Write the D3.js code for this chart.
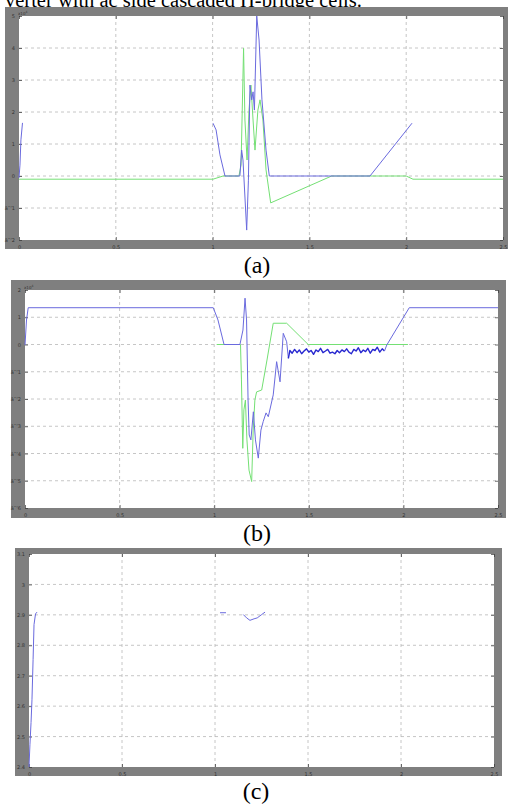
<!DOCTYPE html>
<html>
<head>
<script src="https://cdn.jsdelivr.net/npm/d3@7/dist/d3.min.js"></script>
<style>
    body {margin: 0; background: #fff;}
    svg {display: block;}
    .grid line {stroke: #b8b8b8; stroke-width: 0.8; stroke-dasharray: 3,3;}
    .axis text {font: 5px "DejaVu Sans", sans-serif; fill: #333;}
    .axis line {stroke: #333; stroke-width: 0.7;}
    .axis path {display: none;}
    .caption {font-family: "Liberation Serif", "Times New Roman", Times, serif; fill: #000;}
    .trace {fill: none; stroke-linejoin: round;}
</style>
</head>
<body>
<div id="container"></div>
<script>
// shared time axis (s)
const xTicks = [0, 0.5, 1, 1.5, 2, 2.5];

// (a)
const aYTicks = [-2, -1, 0, 1, 2, 3, 4, 5];
const aBlue = [
    [0, -0.06], [0.005, 0.34], [0.010, 1.13], [0.018, 1.66], [0.5, null],
    [1.002, 1.65], [1.018, 1.44], [1.038, 0.66], [1.064, 0], [1.141, 0],
    [1.150, 0.81], [1.157, 0.5], [1.176, -1.69], [1.185, -0.13], [1.193, 2.84],
    [1.202, 2.38], [1.209, 2.63], [1.216, 2.06], [1.228, 5.0], [1.240, 4.25],
    [1.255, 2.38], [1.276, 0.81], [1.293, 0], [1.813, 0], [2.030, 1.65]
];
const aGreen = [
    [0, -0.10], [1.002, -0.10], [1.054, 0], [1.136, 0], [1.147, 0.34],
    [1.160, 3.99], [1.167, 1.75], [1.178, 0.5], [1.188, 2.06], [1.198, 2.84],
    [1.209, 1.75], [1.219, 0.81], [1.234, 2.06], [1.245, 2.38], [1.260, 1.75],
    [1.276, 0.19], [1.300, -0.84], [1.615, 0], [2.0, 0], [2.035, -0.10], [2.5, -0.10]
];

// (b)
const bYTicks = [-6, -5, -4, -3, -2, -1, 0, 1, 2];
const bBlue = [
    [0, -0.02], [0.008, 0.90], [0.017, 1.35], [0.995, 1.35], [1.02, 0.90],
    [1.052, 0], [1.136, 0], [1.152, 0.53], [1.163, 1.70], [1.171, 0.90],
    [1.179, -2.04], [1.185, -3.32], [1.194, -3.50], [1.207, -2.47], [1.218, -3.50],
    [1.233, -4.17], [1.247, -3.14], [1.259, -2.83], [1.274, -2.51], [1.286, -2.65],
    [1.300, -2.22], [1.312, -1.85], [1.330, -0.63], [1.348, -1.37], [1.365, 0.41],
    [1.383, 0.10], [1.392, -0.51]
];
const bNoise = [
    [1.392, -0.51],
    [1.400, -0.22], [1.412, -0.32], [1.425, -0.18], [1.438, -0.30], [1.450, -0.20],
    [1.462, -0.34], [1.475, -0.24], [1.488, -0.16], [1.500, -0.28], [1.512, -0.22],
    [1.525, -0.36], [1.538, -0.20], [1.550, -0.26], [1.562, -0.14], [1.575, -0.30],
    [1.588, -0.24], [1.600, -0.18], [1.612, -0.32], [1.625, -0.28], [1.638, -0.34],
    [1.650, -0.22], [1.662, -0.30], [1.675, -0.20], [1.688, -0.26], [1.700, -0.16],
    [1.712, -0.28], [1.725, -0.34], [1.738, -0.18], [1.750, -0.24], [1.762, -0.12],
    [1.775, -0.30], [1.788, -0.20], [1.800, -0.26], [1.812, -0.14], [1.825, -0.32],
    [1.838, -0.18], [1.850, -0.22], [1.862, -0.10], [1.875, -0.28], [1.888, -0.16],
    [1.900, -0.24]
];
const bBlueEnd = [[1.900, -0.24], [1.912, -0.02], [2.031, 1.35], [2.5, 1.35]];
const bGreen = [
    [1.013, 0], [1.139, 0], [1.144, -1.30], [1.151, -3.81], [1.157, -2.40],
    [1.165, -2.04], [1.173, -3.50], [1.184, -4.61], [1.198, -5.03], [1.206, -3.14],
    [1.215, -2.04], [1.224, -1.74], [1.251, -1.67], [1.279, -0.57], [1.312, 0.78],
    [1.383, 0.78], [1.497, 0], [2.024, 0]
];

// (c)
const cYTicks = [2.4, 2.5, 2.6, 2.7, 2.8, 2.9, 3, 3.1];
const cBlue = [
    [0, 2.40], [0.005, 2.473], [0.011, 2.546], [0.016, 2.621], [0.022, 2.753],
    [0.027, 2.868], [0.035, 2.903], [0.043, 2.909], [0.5, null],
    [1.027, 2.907], [1.059, 2.907], [1.1, null],
    [1.152, 2.901], [1.170, 2.890], [1.188, 2.882], [1.210, 2.887], [1.227, 2.890],
    [1.251, 2.901], [1.269, 2.909]
];

const W = 508, H = 805;
const svg = d3.select('#container').append('svg')
    .attr('width', W)
    .attr('height', H);

// header line cut by the page edge
svg.append('text')
    .attr('class', 'caption')
    .attr('x', 5)
    .attr('y', 6.5)
    .style('font-size', '20.5px')
    .text('verter with ac side cascaded H-bridge cells.');

function drawPanel(p) {
    const g = svg.append('g');
    g.append('rect')
        .attr('x', p.frame[0]).attr('y', p.frame[1])
        .attr('width', p.frame[2] - p.frame[0]).attr('height', p.frame[3] - p.frame[1])
        .attr('fill', '#7f7f7f');
    g.append('rect')
        .attr('x', p.left).attr('y', p.top)
        .attr('width', p.right - p.left).attr('height', p.bottom - p.top)
        .attr('fill', '#fff');

    const x = d3.scaleLinear().domain([xTicks[0], xTicks[xTicks.length - 1]]).range([p.left, p.right]);
    const y = d3.scaleLinear().domain([p.yTicks[0], p.yTicks[p.yTicks.length - 1]]).range([p.bottom, p.top]);

    const grid = g.append('g').attr('class', 'grid');
    grid.selectAll('.gy').data(p.yTicks.slice(1, -1)).join('line')
        .attr('x1', p.left).attr('x2', p.right)
        .attr('y1', d => y(d)).attr('y2', d => y(d));
    grid.selectAll('.gx').data(xTicks.slice(1, -1)).join('line')
        .attr('class', 'gx')
        .attr('x1', d => x(d)).attr('x2', d => x(d))
        .attr('y1', p.top).attr('y2', p.bottom);

    const fmt = d => d3.format('~g')(d);
    g.append('g').attr('class', 'axis')
        .attr('transform', `translate(${p.left},0)`)
        .call(d3.axisLeft(y).tickValues(p.yTicks).tickSizeInner(-3).tickSizeOuter(0).tickPadding(4).tickFormat(fmt));
    g.append('g').attr('class', 'axis')
        .attr('transform', `translate(${p.right},0)`)
        .call(d3.axisRight(y).tickValues(p.yTicks).tickSizeInner(-3).tickSizeOuter(0).tickFormat(''));
    g.append('g').attr('class', 'axis')
        .attr('transform', `translate(0,${p.bottom})`)
        .call(d3.axisBottom(x).tickValues(xTicks).tickSizeInner(-3).tickSizeOuter(0).tickPadding(5).tickFormat(fmt));
    g.append('g').attr('class', 'axis')
        .attr('transform', `translate(0,${p.top})`)
        .call(d3.axisTop(x).tickValues(xTicks).tickSizeInner(-3).tickSizeOuter(0).tickFormat(''));

    if (p.expo) {
        const t = g.append('text')
            .attr('x', p.left - 1).attr('y', p.top - 1.5)
            .style('font', '4px "DejaVu Sans", sans-serif').attr('fill', '#333');
        t.append('tspan').text('x10');
        t.append('tspan').attr('dy', -1.2).style('font-size', '3px').text(p.expo);
    }

    const line = d3.line()
        .defined(d => d[1] !== null)
        .x(d => x(d[0]))
        .y(d => y(d[1]));

    p.series.forEach(s => {
        g.append('path')
            .datum(s.data)
            .attr('class', 'trace')
            .attr('stroke', s.color)
            .attr('stroke-width', s.width || 1)
            .attr('d', line);
    });

    svg.append('text')
        .attr('class', 'caption')
        .attr('x', p.capX).attr('y', p.capY)
        .attr('text-anchor', 'middle')
        .style('font-size', '24px')
        .text(p.caption);
}

drawPanel({
    frame: [5, 7, 508, 249], left: 19, right: 503, top: 16, bottom: 240,
    yTicks: aYTicks, expo: '4', caption: '(a)', capX: 257, capY: 273,
    series: [
        {data: aGreen, color: '#74e074'},
        {data: aBlue, color: '#6a6ade'}
    ]
});

drawPanel({
    frame: [11, 280, 506, 518], left: 25, right: 498, top: 290, bottom: 508,
    yTicks: bYTicks, expo: '4', caption: '(b)', capX: 257, capY: 541,
    series: [
        {data: bGreen, color: '#74e074'},
        {data: bBlue, color: '#6a6ade'},
        {data: bNoise, color: '#2828d0', width: 1.4},
        {data: bBlueEnd, color: '#6a6ade'}
    ]
});

drawPanel({
    frame: [15, 548, 502, 776], left: 29, right: 494, top: 554, bottom: 767,
    yTicks: cYTicks, caption: '(c)', capX: 256, capY: 799,
    series: [
        {data: cBlue, color: '#6a6ade'}
    ]
});
</script>
</body>
</html>
